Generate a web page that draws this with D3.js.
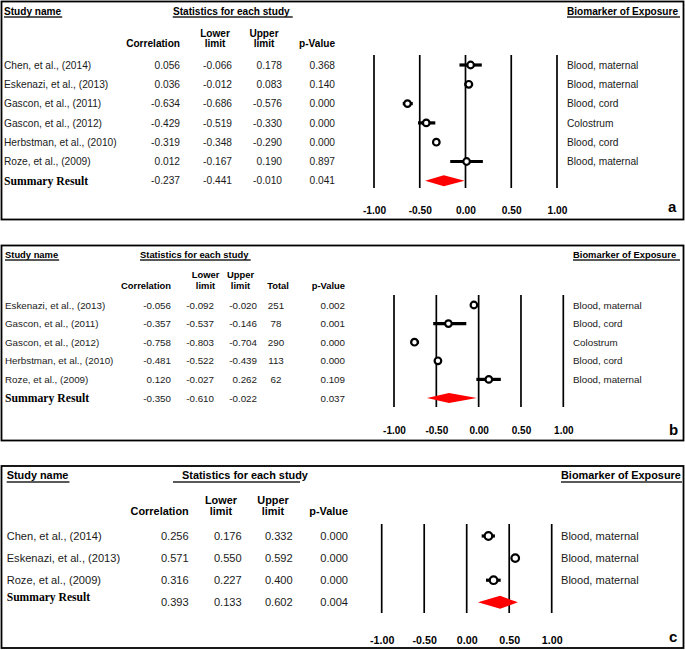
<!DOCTYPE html>
<html><head><meta charset="utf-8">
<script src="https://cdn.jsdelivr.net/npm/d3@7"></script>
<style>
html,body{margin:0;padding:0;background:#fff;}
svg{display:block;}
</style>
</head><body>
<svg id="chart" width="685" height="650"></svg>
<script>
// ---------------- DATA ----------------
const ticks = [-1, -0.5, 0, 0.5, 1];

// Panel a
const studiesA = ["Chen, et al., (2014)", "Eskenazi, et al., (2013)", "Gascon, et al., (2011)", "Gascon, et al., (2012)", "Herbstman, et al., (2010)", "Roze, et al., (2009)"];
const corrA = [0.056, 0.036, -0.634, -0.429, -0.319, 0.012];
const lowerA = [-0.066, -0.012, -0.686, -0.519, -0.348, -0.167];
const upperA = [0.178, 0.083, -0.576, -0.330, -0.290, 0.190];
const pA = [0.368, 0.140, 0.000, 0.000, 0.000, 0.897];
const bioA = ["Blood, maternal", "Blood, maternal", "Blood, cord", "Colostrum", "Blood, cord", "Blood, maternal"];
const summaryA = {corr: -0.237, lower: -0.441, upper: -0.010, p: 0.041};

// Panel b
const studiesB = ["Eskenazi, et al., (2013)", "Gascon, et al., (2011)", "Gascon, et al., (2012)", "Herbstman, et al., (2010)", "Roze, et al., (2009)"];
const corrB = [-0.056, -0.357, -0.758, -0.481, 0.120];
const lowerB = [-0.092, -0.537, -0.803, -0.522, -0.027];
const upperB = [-0.020, -0.146, -0.704, -0.439, 0.262];
const totalB = [251, 78, 290, 113, 62];
const pB = [0.002, 0.001, 0.000, 0.000, 0.109];
const bioB = ["Blood, maternal", "Blood, cord", "Colostrum", "Blood, cord", "Blood, maternal"];
const summaryB = {corr: -0.350, lower: -0.610, upper: -0.022, p: 0.037};

// Panel c
const studiesC = ["Chen, et al., (2014)", "Eskenazi, et al., (2013)", "Roze, et al., (2009)"];
const corrC = [0.256, 0.571, 0.316];
const lowerC = [0.176, 0.550, 0.227];
const upperC = [0.332, 0.592, 0.400];
const pC = [0.000, 0.000, 0.000];
const bioC = ["Blood, maternal", "Blood, maternal", "Blood, maternal"];
const summaryC = {corr: 0.393, lower: 0.133, upper: 0.602, p: 0.004};

// ---------------- LAYOUT ----------------
const panels = [
  {letter: "a", studies: studiesA, corr: corrA, lower: lowerA, upper: upperA, total: null, p: pA, bio: bioA, sum: summaryA,
   box: [1.5, 1.5, 682, 218], y0: 65, step: 19.3, sumLabelDy: 0,
   titleY: 14.5, ulY: 17, h1Y: 36.5, h2Y: 46.5,
   nameX: 4, corrX: 180, lowX: 232, upX: 282, totX: null, pX: 335,
   lowH: 215, upH: 264, totH: null,
   statX: 173, statUl: [172.7, 292.7], bioX: 567, bioUl: [567, 680],
   xr: [374, 557], lineY: [55, 188], tickY: 214, letterX: 668, letterY: 212,
   fRow: 10.2, fHead: 10.1, fSum: 11.7, fTick: 10.2, r: 3.3, dh: 5.5},
  {letter: "b", studies: studiesB, corr: corrB, lower: lowerB, upper: upperB, total: totalB, p: pB, bio: bioB, sum: summaryB,
   box: [1.5, 245.5, 682, 195], y0: 305, step: 18.6, sumLabelDy: 0,
   titleY: 258, ulY: 260, h1Y: 277.5, h2Y: 288.5,
   nameX: 5, corrX: 171, lowX: 214, upX: 257, totX: 276, pX: 345,
   lowH: 205.5, upH: 240.5, totH: 278,
   statX: 140, statUl: [140, 250.7], bioX: 573, bioUl: [573, 680],
   xr: [394, 563.3], lineY: [295, 407], tickY: 434, letterX: 669, letterY: 435,
   fRow: 9.8, fHead: 9.4, fSum: 11.7, fTick: 10, r: 3.3, dh: 5},
  {letter: "c", studies: studiesC, corr: corrC, lower: lowerC, upper: upperC, total: null, p: pC, bio: bioC, sum: summaryC,
   box: [1.5, 466, 682, 182], y0: 536, step: 22.1, sumLabelDy: -5,
   titleY: 479, ulY: 482, h1Y: 504, h2Y: 515,
   nameX: 6.7, corrX: 188.7, lowX: 241.7, upX: 292.7, totX: null, pX: 348,
   lowH: 221, upH: 273, totH: null,
   statX: 182, statUl: [173, 300], bioX: 561, bioUl: [561, 682],
   xr: [381.7, 551.7], lineY: [524, 613], tickY: 644, letterX: 669, letterY: 642,
   fRow: 11.1, fHead: 10.9, fSum: 11.6, fTick: 10.7, r: 3.8, dh: 6.5}
];

const svg = d3.select("#chart");
const SANS = "Liberation Sans, Arial, Helvetica, sans-serif";
const SERIF = "Liberation Serif, Times New Roman, serif";
const f3 = v => v.toFixed(3);
const f2 = v => v.toFixed(2);

panels.forEach(P => {
  const g = svg.append("g");
  const n = P.studies.length;
  const x = d3.scaleLinear().domain([-1, 1]).range(P.xr);
  const y = d3.scaleLinear().domain([0, 1]).range([P.y0, P.y0 + P.step]);
  const bl = fs => fs * 0.36; // baseline offset from row centre

  // frame
  g.append("rect").attr("x", P.box[0]).attr("y", P.box[1]).attr("width", P.box[2]).attr("height", P.box[3])
    .attr("fill", "none").attr("stroke", "#000").attr("stroke-width", 1.8);

  const txt = (xx, yy, s, opts = {}) => g.append("text").attr("x", xx).attr("y", yy).text(s)
    .attr("font-family", opts.family || SANS).attr("font-size", opts.size || P.fRow)
    .attr("font-weight", opts.weight || "normal").attr("text-anchor", opts.anchor || "start")
    .attr("fill", opts.fill || "#1a1a1a");
  const ul = (x1, x2, yy) => g.append("line").attr("x1", x1).attr("x2", x2).attr("y1", yy).attr("y2", yy)
    .attr("stroke", "#222").attr("stroke-width", 1.3);

  const H = {size: P.fHead, weight: "bold", fill: "#000"};
  // headers
  const sn = txt(P.nameX, P.titleY, "Study name", H);
  ul(P.nameX, P.nameX + sn.node().getComputedTextLength() + 1, P.ulY);
  txt(P.statX, P.titleY, "Statistics for each study", H);
  ul(P.statUl[0], P.statUl[1], P.ulY);
  txt(P.bioX, P.titleY, "Biomarker of Exposure", H);
  ul(P.bioUl[0], P.bioUl[1], P.ulY);

  txt(P.corrX, P.h2Y, "Correlation", {...H, anchor: "end"});
  txt(P.lowH, P.h1Y, "Lower", {...H, anchor: "middle"});
  txt(P.lowH, P.h2Y, "limit", {...H, anchor: "middle"});
  txt(P.upH, P.h1Y, "Upper", {...H, anchor: "middle"});
  txt(P.upH, P.h2Y, "limit", {...H, anchor: "middle"});
  if (P.total) txt(P.totH, P.h2Y, "Total", {...H, anchor: "middle"});
  txt(P.pX, P.h2Y, "p-Value", {...H, anchor: "end"});

  // study rows
  P.studies.forEach((s, i) => {
    const yy = y(i) + bl(P.fRow);
    txt(P.nameX, yy, s);
    txt(P.corrX, yy, f3(P.corr[i]), {anchor: "end"});
    txt(P.lowX, yy, f3(P.lower[i]), {anchor: "end"});
    txt(P.upX, yy, f3(P.upper[i]), {anchor: "end"});
    if (P.total) txt(P.totX, yy, String(P.total[i]), {anchor: "middle"});
    txt(P.pX, yy, f3(P.p[i]), {anchor: "end"});
    txt(P.bioX, yy, P.bio[i]);
  });

  // summary row
  const ys = y(n);
  txt(P.nameX, ys + bl(P.fSum) + P.sumLabelDy, "Summary Result", {family: SERIF, size: P.fSum, weight: "bold", fill: "#000"});
  const yv = ys + bl(P.fRow);
  txt(P.corrX, yv, f3(P.sum.corr), {anchor: "end"});
  txt(P.lowX, yv, f3(P.sum.lower), {anchor: "end"});
  txt(P.upX, yv, f3(P.sum.upper), {anchor: "end"});
  txt(P.pX, yv, f3(P.sum.p), {anchor: "end"});

  // vertical reference lines
  g.selectAll("line.ref").data(ticks).enter().append("line")
    .attr("x1", d => x(d)).attr("x2", d => x(d)).attr("y1", P.lineY[0]).attr("y2", P.lineY[1])
    .attr("stroke", "#000").attr("stroke-width", 1.7);

  // tick labels via axis
  const axis = d3.axisBottom(x).tickValues(ticks).tickSize(0).tickPadding(0).tickFormat(f2);
  const ag = g.append("g").attr("transform", `translate(0,${P.tickY})`).call(axis);
  ag.select(".domain").remove();
  ag.selectAll("text").attr("dy", 0).attr("y", 0).attr("font-family", SANS).attr("font-size", P.fTick)
    .attr("font-weight", "bold").attr("fill", "#000");

  // CI lines and points
  const idx = d3.range(n);
  g.selectAll("line.ci").data(idx).enter().append("line")
    .attr("x1", i => x(P.lower[i])).attr("x2", i => x(P.upper[i]))
    .attr("y1", i => y(i)).attr("y2", i => y(i))
    .attr("stroke", "#000").attr("stroke-width", 3.2);
  g.selectAll("circle.pt").data(idx).enter().append("circle")
    .attr("cx", i => x(P.corr[i])).attr("cy", i => y(i)).attr("r", P.r)
    .attr("fill", "#fff").attr("stroke", "#000").attr("stroke-width", 2.2);

  // summary diamond
  const dpts = [[x(P.sum.lower), ys], [x(P.sum.corr), ys - P.dh], [x(P.sum.upper), ys], [x(P.sum.corr), ys + P.dh]];
  g.append("path").attr("d", d3.line()(dpts) + "Z").attr("fill", "#ff0000").attr("stroke", "none");

  // panel letter
  txt(P.letterX, P.letterY, P.letter, {size: 15, weight: "bold", fill: "#000"});
});
</script>
</body></html>
